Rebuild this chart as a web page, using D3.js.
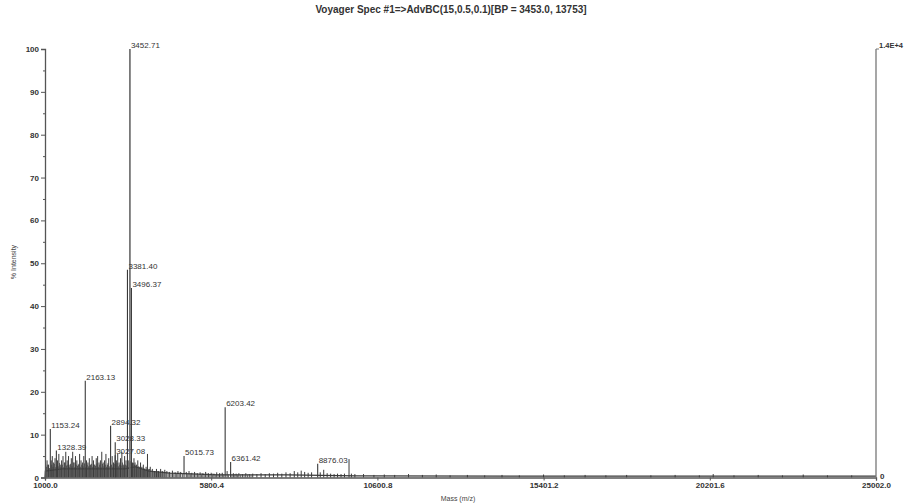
<!DOCTYPE html>
<html>
<head>
<meta charset="utf-8">
<script src="https://cdn.jsdelivr.net/npm/d3@7"></script>
<style>
html,body{margin:0;padding:0;background:#fff;}
svg{display:block;font-family:"Liberation Sans",Arial,sans-serif;}
</style>
</head>
<body>
<div id="chart"></div>
<script>
const titleText = "Voyager Spec #1=>AdvBC(15,0.5,0.1)[BP = 3453.0, 13753]";
const xLabel = "Mass (m/z)";
const yLabel = "% Intensity";
const xTickValues = [1000.0, 5800.4, 10600.8, 15401.2, 20201.6, 25002.0];
const yTickValues = [0, 10, 20, 30, 40, 50, 60, 70, 80, 90, 100];
const yMinorTicks = [5, 15, 25, 35, 45, 55, 65, 75, 85, 95];
const rightTopLabel = "1.4E+4";
const rightBottomLabel = "0";

// labelled peaks: mass (m/z), % intensity
const peakMasses = [1153.24, 1328.39, 2163.13, 2894.32, 3027.08, 3028.33, 3381.40, 3452.71, 3496.37, 5015.73, 6203.42, 6361.42, 8876.03];
const peakIntensities = [11.3, 6.3, 22.6, 12.1, 5.2, 8.2, 48.5, 100, 44.2, 5.0, 16.4, 3.6, 3.2];

// unlabelled spectrum sticks: mass, % intensity
const stickMasses = [1020,1060,1100,1180,1210,1250,1290,1360,1400,1440,1480,
  1520,1560,1600,1640,1680,1720,1760,1800,1840,1880,1920,1960,2000,2040,2080,2120,2200,
  2240,2280,2320,2360,2400,2440,2480,2520,2560,2600,2640,2680,2720,2760,2800,2840,2940,2980,
  3060,3100,3140,3180,3220,3260,3300,3340,3420,3530,
  3570,3600,3640,3680,3720,3760,3800,3840,3880,3920,3960,4000,4040,4100,4160,4220,4280,4340,4400,4460,
  4520,4600,4680,4760,4840,4920,5080,5160,5240,5320,5400,5480,5560,5640,5720,5800,5880,5960,6040,6120,6260,6440,6520,6600,6700,6800,6900,
  7000,7120,7240,7360,7480,7600,7720,7840,7960,8080,8200,8300,8400,8500,8600,8700,8950,9050,9150,9250,9350,9450,9550,9650,9781,9850,9950,
  10200,10500,10800,11100,11500,11900,12300,12700,13200,13700,14200,14700,15400,16000,16600,17200,17800,18500,19200,19900,20300,20900,21600,22300,22900,23600,24300];
const stickIntensities = [3,4,3,4,5,3.5,4.5,4,5.5,3,4,
  5,3.5,6,4,5,3,4.5,6,3.5,5,4,3,5.5,4,3.5,5,4,
  3.5,4.5,3,5,4,3,4.5,5,3.5,4,6,3.5,4,5.5,3,4.5,5,3.5,
  4,5.5,3.5,4.5,6,3,5,4,4,3.5,
  4.5,3.5,3,4,2.5,3.5,2.5,3,2,2.5,5.5,2,2.5,2,1.5,2,1.5,2,1.5,1.8,
  1.5,1.3,1.6,1.2,1.5,1.3,1.3,1.5,1.1,1.3,1,1.2,1,1.3,1,1.1,0.9,1.2,1,1.1,1.5,1,0.9,1,0.8,1,0.8,
  0.9,0.8,1,0.8,1,0.9,1.1,0.9,1.2,1,1.5,1.2,1.6,1.3,1.1,1.2,1.2,1.8,1,0.9,0.8,0.9,0.8,0.9,4.3,0.9,0.8,
  0.8,0.6,0.7,0.6,0.8,0.6,0.7,0.5,0.6,0.5,0.6,0.5,0.7,0.5,0.6,0.5,0.6,0.5,0.6,0.5,0.8,0.5,0.6,0.5,0.7,0.5,0.5];

// smaller in-between sticks in the crowded low-mass region
const minorMasses = [1040,1080,1130,1195,1230,1270,1310,1345,1380,1420,
  1460,1500,1540,1580,1620,1660,1700,1740,1780,1820,
  1860,1900,1940,1980,2020,2060,2100,2140,2180,2220,
  2260,2300,2340,2380,2420,2460,2500,2540,2580,2620,
  2660,2700,2740,2780,2820,2860,2920,2960,3000,3045,
  3080,3120,3160,3200,3240,3280,3320,3360,3440,3475,
  3515,3550,3585,3620,3660,3700,3740,3780,3820,3860,
  3900,3940,3980,4020,4070,4130,4190,4250,4310,4370,
  4430,4490,4560,4640,4720,4800,4880,4970,5120,5200,
  5280,5360,5440,5520,5600,5680,5760,5840,5920,6000,
  6080,6160,6300,6400,6480,6560,6650,6750,6850,6950];
const minorIntensities = [2.5,3,2.2,3,2.5,3.2,2.4,3,2.6,3.4,
  2.5,3,2.4,3.5,2.8,3,2.5,3.2,2.6,3.5,
  2.4,3,2.7,3.2,2.5,3,2.6,3.3,2.4,3,
  2.6,2.8,3.2,2.5,3,2.7,3.3,2.5,3,2.4,
  3.2,2.6,3,2.5,3.4,2.6,3,2.5,3.2,3,
  3.4,2.6,3,2.8,3.5,2.6,3,2.8,3.5,3.8,
  3.2,3.4,3,2.8,2.5,2.6,2.4,2.3,2,2.2,
  1.8,2,1.8,2,1.6,1.5,1.4,1.5,1.3,1.4,
  1.2,1.2,1.1,1,1.1,1,1.1,1,0.9,1,
  0.8,0.9,0.8,0.9,0.8,0.9,0.8,0.9,0.8,0.8,
  0.9,0.8,0.8,0.7,0.8,0.7,0.7,0.7,0.7,0.6];

// baseline level: mass, % intensity
const baseMasses = [1000, 1010, 1500, 2500, 3300, 3600, 4000, 4600, 6000, 8000, 10000, 15000, 25002];
const baseLevels = [0, 1.5, 2, 2, 2, 2.5, 1.5, 1, 0.6, 0.6, 0.4, 0.3, 0.3];

const W = 906, H = 504;
const svg = d3.select("#chart").append("svg").attr("width", W).attr("height", H);

const x = d3.scaleLinear().domain([1000, 25002]).range([45, 876]);
const y = d3.scaleLinear().domain([0, 100]).range([477.5, 49]);

const axisColor = "#555";
const specColor = "#3a3a3a";

// title
svg.append("text").attr("x", 451).attr("y", 13).attr("text-anchor", "middle")
  .attr("font-size", 10).attr("font-weight", "bold").attr("fill", "#333").text(titleText);

// baseline
const base = baseMasses.map((m, i) => [m, baseLevels[i]]);
svg.append("path").datum(base)
  .attr("d", d3.line().x(d => x(d[0])).y(d => y(d[1])))
  .attr("fill", "none").attr("stroke", specColor).attr("stroke-width", 1.2);

// minor sticks
const minors = minorMasses.map((m, i) => ({m, v: minorIntensities[i]})).filter(d => d.v !== undefined);
svg.append("g").selectAll("line").data(minors).join("line")
  .attr("x1", d => x(d.m)).attr("x2", d => x(d.m))
  .attr("y1", y(0)).attr("y2", d => y(d.v))
  .attr("stroke", "#555").attr("stroke-width", 0.9);

// sticks
const sticks = stickMasses.map((m, i) => ({m, v: stickIntensities[i]})).filter(d => d.v !== undefined);
svg.append("g").selectAll("line").data(sticks).join("line")
  .attr("x1", d => x(d.m)).attr("x2", d => x(d.m))
  .attr("y1", y(0)).attr("y2", d => y(d.v))
  .attr("stroke", specColor).attr("stroke-width", 1);

// labelled peaks
const peaks = peakMasses.map((m, i) => ({m, v: peakIntensities[i]}));
svg.append("g").selectAll("line").data(peaks).join("line")
  .attr("x1", d => x(d.m)).attr("x2", d => x(d.m))
  .attr("y1", y(0)).attr("y2", d => y(d.v))
  .attr("stroke", d => d.v > 90 ? "#666" : specColor)
  .attr("stroke-width", d => d.v > 90 ? 1.6 : 1.1);

svg.append("g").selectAll("text").data(peaks).join("text")
  .attr("x", d => x(d.m) + 1).attr("y", d => y(d.v) - 1)
  .attr("font-size", 8).attr("fill", "#333")
  .text(d => d.m.toFixed(2));

// y axis
const yAxis = svg.append("g").attr("transform", `translate(${x(1000)},0)`)
  .call(d3.axisLeft(y).tickValues(yTickValues).tickSize(4).tickPadding(2).tickFormat(d3.format("d")));
yAxis.select(".domain").attr("stroke", axisColor).attr("stroke-width", 1.3);
yAxis.selectAll(".tick line").attr("stroke", axisColor);
yAxis.selectAll(".tick text").attr("font-size", 8).attr("font-weight", "bold").attr("fill", "#333").attr("font-family", "Liberation Sans, Arial, sans-serif");
const yMinor = svg.append("g").attr("transform", `translate(${x(1000)},0)`)
  .call(d3.axisLeft(y).tickValues(yMinorTicks).tickSize(2).tickFormat(""));
yMinor.select(".domain").remove();
yMinor.selectAll(".tick line").attr("stroke", axisColor);

// x axis
const xAxis = svg.append("g").attr("transform", `translate(0,${y(0)})`)
  .call(d3.axisBottom(x).tickValues(xTickValues).tickSize(3).tickPadding(2).tickFormat(d3.format(".1f")));
xAxis.select(".domain").attr("stroke", axisColor).attr("stroke-width", 1.3);
xAxis.selectAll(".tick line").attr("stroke", axisColor);
xAxis.selectAll(".tick text").attr("font-size", 8).attr("font-weight", "bold").attr("fill", "#333").attr("font-family", "Liberation Sans, Arial, sans-serif");

// right axis
svg.append("line").attr("x1", x(25002)).attr("x2", x(25002)).attr("y1", y(100)).attr("y2", y(0))
  .attr("stroke", "#777").attr("stroke-width", 1.3);
svg.append("line").attr("x1", x(25002)).attr("x2", x(25002) + 3).attr("y1", y(100)).attr("y2", y(100))
  .attr("stroke", "#777");
svg.append("text").attr("x", x(25002) + 3).attr("y", y(100) - 1)
  .attr("font-size", 7.5).attr("font-weight", "bold").attr("fill", "#333").text(rightTopLabel);
svg.append("text").attr("x", x(25002) + 4).attr("y", y(0) + 1)
  .attr("font-size", 8).attr("font-weight", "bold").attr("fill", "#333").text(rightBottomLabel);

// axis titles
svg.append("text").attr("transform", `translate(16,262) rotate(-90)`).attr("text-anchor", "middle")
  .attr("font-size", 7).attr("fill", "#444").text(yLabel);
svg.append("text").attr("x", 458).attr("y", 501).attr("text-anchor", "middle")
  .attr("font-size", 7).attr("fill", "#444").text(xLabel);
</script>
</body>
</html>
